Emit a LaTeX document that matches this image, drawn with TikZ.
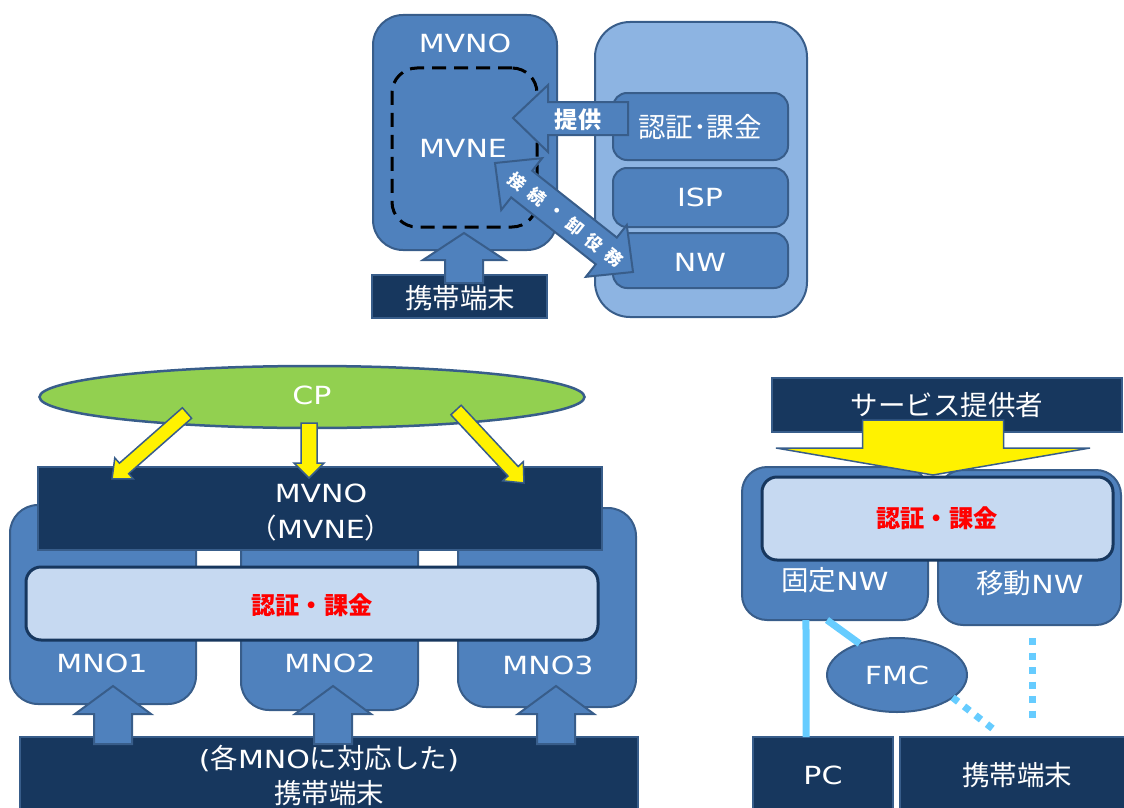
\documentclass[tikz,border=0pt]{standalone}
\usepackage{fontspec}
\setmainfont[Scale=1.1]{Noto Sans CJK JP}
\newfontfamily\latfont[FakeStretch=1.2]{DejaVu Sans}
\newcommand\latn[1]{{\latfont #1}}
\usetikzlibrary{shapes.geometric,calc}
\definecolor{mblue}{HTML}{4F81BD}
\definecolor{bord}{HTML}{385D8A}
\definecolor{lblue}{HTML}{8DB4E2}
\definecolor{navy}{HTML}{17375E}
\definecolor{pale}{HTML}{C6D9F1}
\definecolor{cpgreen}{HTML}{92D050}
\definecolor{skyc}{HTML}{66CCFF}
% box as a named node from corner coordinates
\newcommand\bx[6]{\node[#1, minimum width={(#4)-(#2)}, minimum height={(#5)-(#3)}] (#6) at ({((#2)+(#4))/2},{((#3)+(#5))/2}) {};}
% vertical block arrow: cx, tip y, head-base y, shaft end y, shaft half, head half, style
\newcommand\upblk[7]{\draw[#7] (#1,#2) -- ({#1+#6},#3) -- ({#1+#5},#3) -- ({#1+#5},#4) -- ({#1-#5},#4) -- ({#1-#5},#3) -- ({#1-#6},#3) -- cycle;}
% single block arrow: tail x,y, tip x,y, shaft half, head half, head length, style
\newcommand\sarr[8]{%
 \pgfmathsetmacro\aang{atan2((#4)-(#2),(#3)-(#1))}%
 \pgfmathsetmacro\alen{veclen((#3)-(#1),(#4)-(#2))}%
 \begin{scope}[shift={(#1,#2)}, rotate=-\aang]
  \draw[#8] (0,-#5) -- ({\alen-#7},-#5) -- ({\alen-#7},-#6) -- (\alen,0) -- ({\alen-#7},#6) -- ({\alen-#7},#5) -- (0,#5) -- cycle;
 \end{scope}}
% double block arrow
\newcommand\darr[8]{%
 \pgfmathsetmacro\aang{atan2((#4)-(#2),(#3)-(#1))}%
 \pgfmathsetmacro\alen{veclen((#3)-(#1),(#4)-(#2))}%
 \begin{scope}[shift={(#1,#2)}, rotate=-\aang]
  \draw[#8] (0,0) -- (#7,-#6) -- (#7,-#5) -- ({\alen-#7},-#5) -- ({\alen-#7},-#6) -- (\alen,0) -- ({\alen-#7},#6) -- ({\alen-#7},#5) -- (#7,#5) -- (#7,#6) -- cycle;
 \end{scope}}
\begin{document}
\begin{tikzpicture}[x=1pt,y=-1pt,
  every node/.style={inner sep=0pt, outer sep=0pt},
  mbox/.style={draw=bord, line width=2pt, fill=mblue, rounded corners=#1},
  mbox/.default=14pt,
  nbox/.style={draw=bord, line width=2pt, fill=navy},
  pbox/.style={draw=navy, line width=3pt, fill=pale, rounded corners=15pt},
  wt/.style={text=white, font=\fontsize{25}{28}\selectfont},
  rt/.style={text=red, font=\fontsize{22}{24}\selectfont\bfseries},
  blk/.style={fill=mblue, draw=bord, line width=2pt},
  yarr/.style={fill=yellow, draw=bord, line width=1.5pt},
  skyl/.style={draw=skyc, line width=7pt},
  skyd/.style={draw=skyc, line width=7pt, dash pattern=on 7pt off 7.5pt},
]
\useasboundingbox (0,0) rectangle (1124,808);

% ---------------- top ----------------
\bx{draw=bord,line width=2pt,fill=lblue,rounded corners=35pt}{595}{22}{807}{317}{rbig}
\bx{mbox}{613}{93}{788}{160}{auth}
\bx{mbox}{613}{168}{788}{227}{isp}
\bx{mbox}{613}{233}{788}{288}{nw}
\bx{mbox=30pt}{373}{15}{557}{250}{mvno}
\bx{draw=black,line width=3pt,dash pattern=on 14pt off 8pt,rounded corners=25pt}{392}{68}{537}{227}{mvne}
\bx{nbox}{372}{275}{547}{318}{ktai}
\upblk{464}{233}{260}{283}{19}{41}{blk}
\draw[blk] (513,118) -- (548,85) -- (548,102) -- (628,102) -- (628,135) -- (548,135) -- (548,152) -- cycle;
\darr{495}{163}{633}{272}{17}{33}{34}{blk}

\node[wt] (tMVNO) at (465,43) {\latn{MVNO}};
\node[wt] (tMVNE) at (463,148) {\latn{MVNE}};
\node[wt] (tauth) at (700,127) {認証･課金};
\node[wt] (tisp) at (700,197) {\latn{ISP}};
\node[wt] (tnw) at (700,262) {\latn{NW}};
\node[wt] (tkt) at (460,298) {携帯端末};
\node[text=white, font=\fontsize{21}{22}\selectfont\bfseries] (tteikyo) at (578,120) {提供};
\foreach \c [count=\i] in {接,続,・,卸,役,務}{
  \node[text=white, font=\fontsize{15.5}{16}\selectfont\bfseries, rotate=-38.3] (jc\i)
    at ({495+(27+24.6*(\i-1))*0.785+1.2}, {163+(27+24.6*(\i-1))*0.62+1.6}) {\c};
}

% ---------------- bottom left ----------------
\bx{mbox=28pt}{10}{505}{196}{704}{mno1}
\bx{mbox=28pt}{241}{520}{418}{710}{mno2}
\bx{mbox=28pt}{458}{508}{636}{707}{mno3}
\bx{nbox}{38}{467}{602}{550}{mvnob}
\bx{pbox}{26}{567}{598}{640}{authb}
\bx{nbox}{20}{737}{638}{830}{ktaib}
\upblk{113}{686}{714}{744}{19}{38}{blk}
\upblk{333}{686}{714}{744}{19}{38}{blk}
\upblk{556}{686}{714}{744}{19}{38}{blk}
\node[ellipse, draw=bord, line width=2.5pt, fill=cpgreen, minimum width=545, minimum height=62] (cp) at (312,397) {};
\sarr{187}{413}{112}{479}{7}{14}{16}{yarr}
\sarr{309}{423}{309}{478}{8}{15}{15}{yarr}
\sarr{456}{410}{524}{483}{7}{14}{16}{yarr}

\node[wt] (tcp) at (312,395) {\latn{CP}};
\node[wt] (tmv) at (321,493) {\latn{MVNO}};
\node[wt] (tmve) at (321,528) {（\latn{MVNE}）};
\node[rt] (tauthb) at (312,605) {認証・課金};
\node[wt] (tm1) at (102,663) {\latn{MNO1}};
\node[wt] (tm2) at (330,663) {\latn{MNO2}};
\node[wt] (tm3) at (548,665) {\latn{MNO3}};
\node[wt] (tb1) at (329,758) {\latn{(}各\latn{MNO}に対応した\latn{)}};
\node[wt] (tb2) at (329,793) {携帯端末};

% ---------------- bottom right ----------------
\bx{nbox}{772}{378}{1122}{432}{svc}
\bx{mbox=25pt}{742}{467}{928}{620}{fixed}
\bx{mbox=25pt}{938}{470}{1121}{625}{mobile}
\upblk{933}{475}{448}{420}{70.5}{157}{yarr}
\bx{pbox}{762}{477}{1113}{560}{authr}
\node[ellipse, fill=mblue, draw=bord, line width=2pt, minimum width=140, minimum height=74] (fmc) at (897,675) {};
\bx{nbox}{753}{737}{893}{830}{pc}
\bx{nbox}{900}{737}{1135}{830}{ktair}

\draw[skyl] ($(fixed.south west)!0.344!(fixed.south east)$) -- ($(pc.north west)!0.379!(pc.north east)$);
\draw[skyl] ($(fixed.south west)!0.457!(fixed.south east)$) -- (fmc.140);
\draw[skyd] (fmc.-22) -- ($(ktair.north west)+(97,-5)$);
\draw[skyd] ($(mobile.south west)+(94,13)$) -- ($(ktair.north west)+(132,-19)$);

\node[wt] (tsvc) at (947,405) {サービス提供者};
\node[rt] (tauthr) at (937,518) {認証・課金};
\node[wt] (tfix) at (835,580) {固定\latn{NW}};
\node[wt] (tmob) at (1030,583) {移動\latn{NW}};
\node[wt] (tfmc) at (897,675) {\latn{FMC}};
\node[wt] (tpc) at (823,775) {\latn{PC}};
\node[wt] (tkr) at (1017,775) {携帯端末};
\end{tikzpicture}
\end{document}
